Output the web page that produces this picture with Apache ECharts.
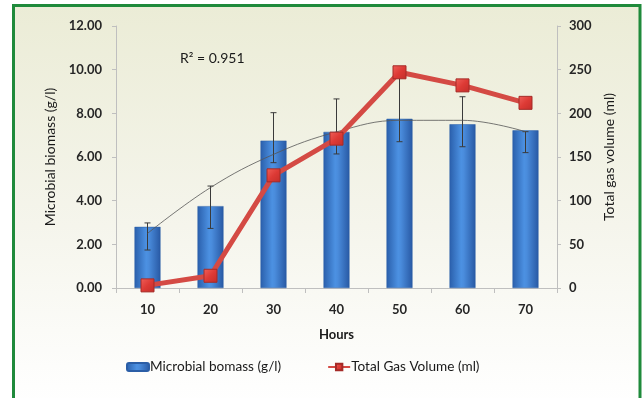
<!DOCTYPE html>
<html><head><meta charset="utf-8">
<script src="https://cdn.jsdelivr.net/npm/echarts@6/dist/echarts.min.js"></script>
<style>html,body{margin:0;padding:0;background:#fff;} #c{width:644px;height:398px;}</style>
</head><body><div id="c"></div>
<script>
const categories = ['10','20','30','40','50','60','70'];
const biomass = [2.80, 3.75, 6.75, 7.15, 7.75, 7.50, 7.22];
const biomassErrLow = [1.74, 2.73, 5.74, 6.14, 6.70, 6.47, 6.20];
const biomassErrHigh = [2.98, 4.67, 8.03, 8.66, 9.70, 8.76, 7.16];
const gasVolume = [3, 14, 129, 171, 247, 232, 212];
const trendValues = [2.50, 4.60, 6.12, 7.15, 7.68, 7.68, 7.16];
const leftAxisRange = [0, 12, 2];
const rightAxisRange = [0, 300, 50];
const seriesNames = ['Microbial bomass (g/l)', 'Total Gas Volume (ml)'];
const axisNames = ['Hours', 'Microbial biomass (g/l)', 'Total gas volume (ml)'];
const r2Label = 'R\u00B2 = 0.951';

const FONT = 'Lato';
const chart = echarts.init(document.getElementById('c'), null, {renderer: 'canvas'});
const axisLineStyle = {lineStyle: {color: '#bfbfbf', width: 1}};
const labelStyle = {fontFamily: FONT, fontWeight: 'bold', fontSize: 13, color: '#262626'};
const nameStyle = {fontFamily: FONT, fontWeight: 'normal', fontSize: 14, color: '#1a1a1a'};

chart.setOption({
  animation: false,
  textStyle: {fontFamily: FONT},
  graphic: [
    {type: 'rect', z: -10, silent: true,
     shape: {x: 13.5, y: 5.5, width: 626.5, height: 400},
     style: {
       fill: new echarts.graphic.LinearGradient(0, 0, 0, 1, [
         {offset: 0, color: '#ebecd6'},
         {offset: 0.55, color: '#f5f5ec'},
         {offset: 0.9, color: '#fdfdfb'},
         {offset: 1, color: '#ffffff'}
       ]),
       stroke: '#1f8a3b', lineWidth: 3
     }},
    {type: 'text', z: 100, left: 180, top: 51,
     style: {text: r2Label, font: '14px Lato', fill: '#1a1a1a'}}
  ],
  grid: {left: 116, right: 87, top: 26, bottom: 110, containLabel: false},
  legend: {
    left: 126, top: 360, padding: 0, itemWidth: 22, itemHeight: 8, itemGap: 46,
    textStyle: {fontFamily: FONT, fontSize: 13.6, color: '#1a1a1a', padding: [0, 0, 0, -4]},
    data: seriesNames
  },
  xAxis: {
    type: 'category', data: categories,
    name: axisNames[0], nameLocation: 'middle', nameGap: 40,
    nameTextStyle: Object.assign({}, nameStyle, {fontWeight: 'bold', fontSize: 13}),
    axisLine: axisLineStyle,
    axisTick: {show: true, length: 5, lineStyle: {color: '#bfbfbf'}},
    axisLabel: Object.assign({margin: 15}, labelStyle),
    splitLine: {show: false}
  },
  yAxis: [
    {type: 'value', min: leftAxisRange[0], max: leftAxisRange[1], interval: leftAxisRange[2],
     name: axisNames[1], nameLocation: 'middle', nameGap: 55,
     nameTextStyle: nameStyle,
     axisLine: Object.assign({show: true}, axisLineStyle),
     axisTick: {show: true, length: 4, lineStyle: {color: '#bfbfbf'}},
     axisLabel: Object.assign({margin: 14, formatter: v => v.toFixed(2)}, labelStyle),
     splitLine: {show: false}},
    {type: 'value', min: rightAxisRange[0], max: rightAxisRange[1], interval: rightAxisRange[2],
     name: axisNames[2], nameLocation: 'middle', nameGap: 44,
     nameTextStyle: nameStyle,
     axisLine: Object.assign({show: true}, axisLineStyle),
     axisTick: {show: true, length: 4, lineStyle: {color: '#bfbfbf'}},
     axisLabel: Object.assign({margin: 12}, labelStyle),
     splitLine: {show: false}}
  ],
  series: [
    {name: seriesNames[0], type: 'bar', data: biomass, barWidth: 26, z: 2,
     itemStyle: {
       color: new echarts.graphic.LinearGradient(0, 0, 1, 0, [
         {offset: 0, color: '#2a5fab'},
         {offset: 0.45, color: '#4c91e2'},
         {offset: 0.55, color: '#4a8cdc'},
         {offset: 1, color: '#2859a4'}
       ]),
       borderColor: '#2b5ea6', borderWidth: 0.5
     }},
    {type: 'custom', z: 3, silent: true,
     data: categories.map((c, i) => [i, biomassErrLow[i], biomassErrHigh[i]]),
     encode: {x: 0, y: [1, 2]},
     renderItem: (params, api) => {
       const lo = api.coord([api.value(0), api.value(1)]);
       const hi = api.coord([api.value(0), api.value(2)]);
       const w = 3;
       const st = {stroke: '#3a3a3a', lineWidth: 1};
       return {type: 'group', children: [
         {type: 'line', shape: {x1: hi[0], y1: hi[1], x2: lo[0], y2: lo[1]}, style: st},
         {type: 'line', shape: {x1: hi[0] - w, y1: hi[1], x2: hi[0] + w, y2: hi[1]}, style: st},
         {type: 'line', shape: {x1: lo[0] - w, y1: lo[1], x2: lo[0] + w, y2: lo[1]}, style: st}
       ]};
     }},
    {type: 'line', data: trendValues, smooth: 0.4, symbol: 'none', z: 4, silent: true,
     lineStyle: {color: '#555555', width: 0.8}},
    {name: seriesNames[1], type: 'line', yAxisIndex: 1, data: gasVolume, z: 5,
     symbol: 'rect', symbolSize: 13,
     lineStyle: {color: '#d44a44', width: 5},
     itemStyle: {
       color: new echarts.graphic.LinearGradient(0, 0, 1, 1, [
         {offset: 0, color: '#f0605a'},
         {offset: 0.5, color: '#dd3a35'},
         {offset: 1, color: '#c22d29'}
       ]),
       borderColor: '#a52b27', borderWidth: 1
     }}
  ]
});
</script></body></html>
